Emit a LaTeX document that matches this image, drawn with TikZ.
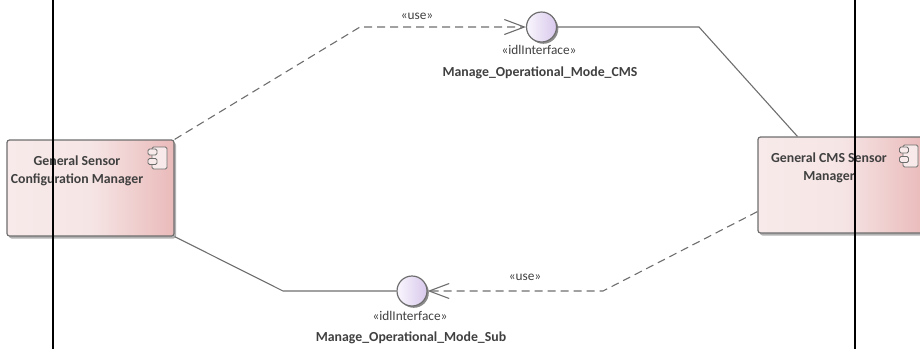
\documentclass[tikz,border=0pt]{standalone}
\usepackage{fontspec}
\setmainfont{Carlito}
\usepackage{tikz}
\usetikzlibrary{arrows.meta,shapes,shadows,calc}
\definecolor{linegray}{HTML}{6E6E6E}
\definecolor{textgray}{HTML}{404040}
\tikzstyle{compbox} = [draw=linegray, line width=1.2pt, rounded corners=2.5pt, minimum width=167pt, minimum height=96pt, inner sep=0pt, left color=compleft, right color=compright, middle color=compmid, drop shadow={shadow xshift=2pt,shadow yshift=-2.5pt,fill=black!30,opacity=1}]
\tikzstyle{ifcircle} = [circle, draw=linegray, line width=1.2pt, minimum size=30pt, inner sep=0pt, left color=ifleft, right color=ifright, drop shadow={shadow xshift=1.8pt,shadow yshift=-1.8pt,fill=black!45,opacity=1}]
\tikzstyle{iconbody} = [draw=linegray, line width=.9pt, rounded corners=1.5pt, fill=compleft, minimum width=15pt, minimum height=22pt, inner sep=0pt]
\tikzstyle{iconpin} = [draw=linegray, line width=.9pt, rounded corners=1.5pt, fill=compleft, minimum width=9pt, minimum height=6pt, inner sep=0pt]
\tikzstyle{namelabel} = [text=textgray, font=\fontsize{13.8pt}{18pt}\selectfont\bfseries, align=center, inner sep=0pt]
\tikzstyle{stereolabel} = [text=textgray, font=\fontsize{13.3pt}{15pt}\selectfont, inner sep=0pt]
\tikzstyle{usedep} = [draw=linegray, line width=1.1pt, dash pattern=on 8pt off 5pt, -{Straight Barb[length=20pt,width=15pt]}]
\tikzstyle{realize} = [draw=linegray, line width=1.1pt]
\definecolor{compleft}{HTML}{F8EAEA}
\definecolor{compmid}{HTML}{F6E5E5}
\definecolor{compright}{HTML}{EABABA}
\definecolor{ifleft}{HTML}{F9F6FD}
\definecolor{ifright}{HTML}{D8C8EC}
\begin{document}
\begin{tikzpicture}[x=1pt,y=-1pt]
        \useasboundingbox (0,0) rectangle (920,349);
        \path[] node[compbox] (sensormgr) at (90.5,188) {};
        \path[] node[compbox] (cmsmgr) at (841.5,185) {};
        \path[] node[iconbody] (sensorbody) at (159.5,158) {};
        \path[] node[iconpin] at (152.5,152) {};
        \path[] node[iconpin] at (152.5,161.5) {};
        \path[] node[iconbody] (cmsbody) at (910.5,156) {};
        \path[] node[iconpin] at (904,150) {};
        \path[] node[iconpin] at (904,159.5) {};
        \path[] node[namelabel] (sensorname) at (77,171) {General Sensor\\Configuration Manager};
        \path[] node[namelabel] (cmsname) at (829,167.5) {General CMS Sensor\\Manager};
        % interfaces
        \path[] node[ifcircle] (cmsif) at (541.5,27) {};
        \path[] node[ifcircle] (subif) at (412,291) {};
        \path[] node[stereolabel] (cmsstereo) at (539,50) {«idlInterface»};
        \path[] node[namelabel] (cmsifname) at (540,73) {Manage\_Operational\_Mode\_CMS};
        \path[] node[stereolabel] (substereo) at (410,316) {«idlInterface»};
        \path[] node[namelabel] (subifname) at (411,338) {Manage\_Operational\_Mode\_Sub};
        % bends
        \coordinate (usetop) at (360,27);
        \coordinate (cmstop) at (699,27);
        \coordinate (subbend) at (283,291);
        \coordinate (usebot) at (603,291);
        \draw[usedep] (sensormgr.north east) -- (usetop) -- (cmsif.west);
        \draw[realize] (cmsif.east) -- (cmstop) -- ($(cmsmgr.north west)+(40,0)$);
        \draw[realize] (sensormgr.south east) -- (subbend) -- (subif.west);
        \draw[usedep] ($(cmsmgr.south west)+(0,-22)$) -- (usebot) -- (subif.east);
        \path[] node[stereolabel] (usetoplabel) at (417,16) {«use»};
        \path[] node[stereolabel] (usebotlabel) at (525,277) {«use»};
        % cut lines
        \coordinate (cutatop) at (53,0);
        \coordinate (cutabot) at (53,349);
        \coordinate (cutbtop) at (855,0);
        \coordinate (cutbbot) at (855,349);
        \draw[black, line width=1.4pt] (cutatop) -- (cutabot);
        \draw[black, line width=1.4pt] (cutbtop) -- (cutbbot);
\end{tikzpicture}
\end{document}
